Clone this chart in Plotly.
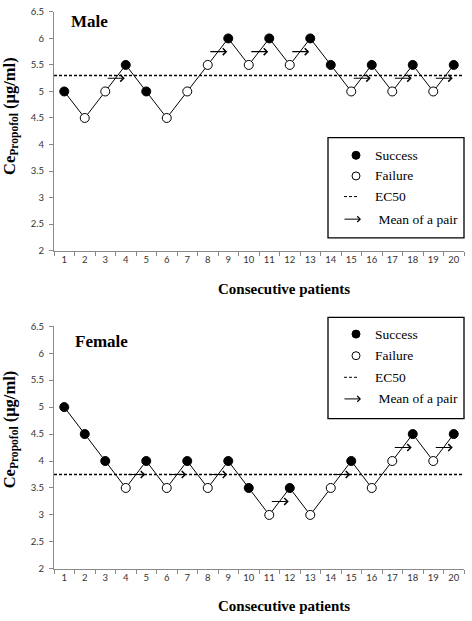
import plotly.graph_objects as go

W, H = 472, 621

patients = list(range(1, 21))
male_ce = [5.0, 4.5, 5.0, 5.5, 5.0, 4.5, 5.0, 5.5, 6.0, 5.5, 6.0, 5.5, 6.0, 5.5, 5.0, 5.5, 5.0, 5.5, 5.0, 5.5]
male_success = [1, 0, 0, 1, 1, 0, 0, 0, 1, 0, 1, 0, 1, 1, 0, 1, 0, 1, 0, 1]
male_ec50 = 5.3
male_pair_start = [3, 8, 10, 12, 15, 17, 19]
male_pair_mean = [5.25, 5.75, 5.75, 5.75, 5.25, 5.25, 5.25]

female_ce = [5.0, 4.5, 4.0, 3.5, 4.0, 3.5, 4.0, 3.5, 4.0, 3.5, 3.0, 3.5, 3.0, 3.5, 4.0, 3.5, 4.0, 4.5, 4.0, 4.5]
female_success = [1, 1, 1, 0, 1, 0, 1, 0, 1, 1, 0, 1, 0, 0, 1, 0, 0, 1, 0, 1]
female_ec50 = 3.75
female_pair_start = [4, 6, 8, 11, 14, 17, 19]
female_pair_mean = [3.75, 3.75, 3.75, 3.25, 3.75, 4.25, 4.25]

y_ticks = [2, 2.5, 3, 3.5, 4, 4.5, 5, 5.5, 6, 6.5]
y_ticktext = ["2", "2.5", "3", "3.5", "4", "4.5", "5", "5.5", "6", "6.5"]

def px(x):
    return x / W

def py(y):
    return 1 - y / H

SERIF = "Liberation Serif"
SANS = "Lato"
AXIS_COL = "#8a8a8a"

fig = go.Figure()

panels = [
    dict(ce=male_ce, succ=male_success, ec50=male_ec50, ps=male_pair_start, pm=male_pair_mean,
         xa="x", ya="y", title="Male", title_xy=(69, 16),
         legend_top=134, legend_bot=236, leg_rows=[152, 173, 194, 217],
         ytitle_y=112, xtitle_y=288),
    dict(ce=female_ce, succ=female_success, ec50=female_ec50, ps=female_pair_start, pm=female_pair_mean,
         xa="x2", ya="y2", title="Female", title_xy=(73, 342),
         legend_top=317, legend_bot=420, leg_rows=[334, 356, 378, 400],
         ytitle_y=431, xtitle_y=611),
]

annotations = []
shapes = []

for i, p in enumerate(panels):
    xa, ya = p["xa"], p["ya"]
    fig.add_trace(go.Scatter(x=[0.5, 20.5], y=[p["ec50"], p["ec50"]], mode="lines",
                             line=dict(color="black", width=1.5, dash="3px,2px"),
                             xaxis=xa, yaxis=ya, showlegend=False, hoverinfo="skip"))
    fig.add_trace(go.Scatter(x=patients, y=p["ce"], mode="lines",
                             line=dict(color="black", width=1),
                             xaxis=xa, yaxis=ya, showlegend=False, hoverinfo="skip"))
    colors = ["black" if s else "white" for s in p["succ"]]
    fig.add_trace(go.Scatter(x=patients, y=p["ce"], mode="markers",
                             marker=dict(size=9, color=colors, line=dict(color="black", width=1)),
                             xaxis=xa, yaxis=ya, showlegend=False))
    for s, m in zip(p["ps"], p["pm"]):
        annotations.append(dict(x=s + 0.95, y=m, ax=s + 0.05, ay=m, xref=xa, yref=ya,
                                axref=xa, ayref=ya, showarrow=True, arrowhead=4,
                                arrowsize=1.2, arrowwidth=1.1, arrowcolor="black", text=""))
    annotations.append(dict(x=px(p["title_xy"][0]), y=py(p["title_xy"][1]), xref="paper", yref="paper",
                            text="<b>" + p["title"] + "</b>", showarrow=False, xanchor="left", yanchor="middle",
                            font=dict(family=SERIF, size=17, color="black")))
    annotations.append(dict(x=px(10), y=py(p["ytitle_y"]), xref="paper", yref="paper",
                            text="<b>Ce<sub>Propofol</sub> (μg/ml)</b>", showarrow=False, textangle=-90,
                            xanchor="center", yanchor="middle",
                            font=dict(family=SERIF, size=16.5, color="black")))
    annotations.append(dict(x=px(284), y=py(p["xtitle_y"]), xref="paper", yref="paper",
                            text="<b>Consecutive patients</b>", showarrow=False,
                            xanchor="center", yanchor="middle",
                            font=dict(family=SERIF, size=15, color="black")))
    lx0, lx1 = 328, 464
    shapes.append(dict(type="rect", xref="paper", yref="paper", x0=px(lx0), x1=px(lx1),
                       y0=py(p["legend_bot"]), y1=py(p["legend_top"]),
                       line=dict(color="black", width=1.3), fillcolor="white", layer="above"))
    r = p["leg_rows"]
    mx = 356
    for row, fill in ((r[0], "black"), (r[1], "white")):
        shapes.append(dict(type="circle", xref="paper", yref="paper", xsizemode="pixel", ysizemode="pixel",
                           xanchor=px(mx), yanchor=py(row), x0=-4, x1=4, y0=-4, y1=4,
                           fillcolor=fill, line=dict(color="black", width=1), layer="above"))
    shapes.append(dict(type="line", xref="paper", yref="paper", x0=px(344), x1=px(359),
                       y0=py(r[2]), y1=py(r[2]), line=dict(color="black", width=1, dash="3px,2px"),
                       layer="above"))
    annotations.append(dict(x=px(361), y=py(r[3]), xref="paper", yref="paper", ax=-18, ay=0,
                            showarrow=True, arrowhead=4, arrowsize=1.1, arrowwidth=1,
                            arrowcolor="black", text=""))
    labels = ["Success", "Failure", "EC50", " Mean of a pair"]
    for row, lab in zip(r, labels):
        annotations.append(dict(x=px(373), y=py(row), xref="paper", yref="paper", text=lab,
                                showarrow=False, xanchor="left", yanchor="middle",
                                font=dict(family=SERIF, size=13.5, color="black")))

xaxis_common = dict(range=[0.5, 20.5], tickvals=patients, ticktext=[str(v) for v in patients],
                    ticks="", showgrid=False, zeroline=False, showline=True, linecolor=AXIS_COL,
                    linewidth=1, tickfont=dict(family=SANS, size=9.5, color="#333333"),
                    minor=dict(tickvals=[v + 0.5 for v in range(0, 21)], ticks="outside",
                               ticklen=4, tickcolor=AXIS_COL, showgrid=False),
                    fixedrange=True)
yaxis_common = dict(range=[2, 6.5], tickvals=y_ticks, ticktext=y_ticktext, ticks="outside",
                    ticklen=4, tickcolor=AXIS_COL, showgrid=False, zeroline=False, showline=True,
                    linecolor=AXIS_COL, linewidth=1, tickfont=dict(family=SANS, size=9.5, color="#333333"),
                    ticklabelstandoff=3, fixedrange=True)

fig.update_layout(
    width=W, height=H,
    margin=dict(l=0, r=0, t=0, b=0),
    paper_bgcolor="white", plot_bgcolor="white",
    showlegend=False,
    xaxis=dict(domain=[px(54), px(464)], anchor="y", **xaxis_common),
    yaxis=dict(domain=[py(249), py(6)], anchor="x", **yaxis_common),
    xaxis2=dict(domain=[px(54), px(464)], anchor="y2", **xaxis_common),
    yaxis2=dict(domain=[py(573), py(326)], anchor="x2", **yaxis_common),
    annotations=annotations,
    shapes=shapes,
)

fig.write_html("out.html", config={"displayModeBar": False},
               post_script="document.body.style.margin='0px';document.body.style.overflow='hidden';")
